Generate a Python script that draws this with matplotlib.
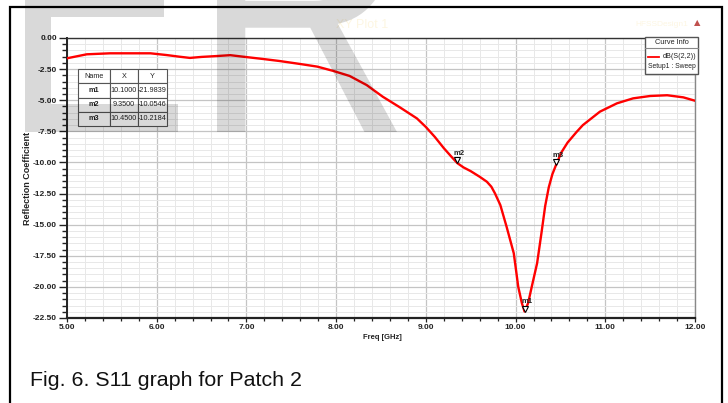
import matplotlib
matplotlib.use('Agg')
import matplotlib.pyplot as plt
import matplotlib.transforms as mtransforms
from matplotlib.patches import Rectangle, PathPatch
from matplotlib.lines import Line2D
from matplotlib.textpath import TextPath
from matplotlib.font_manager import FontProperties
from matplotlib.ticker import MultipleLocator, FormatStrFormatter

plt.rcParams['font.family'] = ['Liberation Sans', 'DejaVu Sans']

# S(2,2) sweep
freq_ghz = [5.00, 5.22, 5.48, 5.93, 6.11, 6.25, 6.37, 6.50, 6.67, 6.82,
            6.96, 7.19, 7.37, 7.60, 7.79, 7.97, 8.15, 8.34, 8.52, 8.71,
            8.90, 9.00, 9.10, 9.20, 9.28, 9.35, 9.42, 9.50, 9.60, 9.68,
            9.73, 9.77, 9.83, 9.90, 9.98, 10.03, 10.07, 10.10, 10.14, 10.18,
            10.24, 10.29, 10.33, 10.37, 10.41, 10.45, 10.51, 10.58, 10.68, 10.75,
            10.94, 11.13, 11.31, 11.50, 11.69, 11.87, 12.00]
s22_db = [-1.63, -1.31, -1.23, -1.23, -1.37, -1.50, -1.60, -1.52, -1.45, -1.38,
          -1.50, -1.69, -1.85, -2.09, -2.30, -2.65, -3.05, -3.78, -4.72, -5.57,
          -6.46, -7.15, -7.95, -8.85, -9.50, -10.05, -10.40, -10.70, -11.15, -11.55,
          -11.95, -12.48, -13.42, -15.17, -17.30, -20.00, -21.30, -21.98, -21.30, -20.00,
          -18.10, -15.60, -13.50, -12.00, -10.95, -10.22, -9.20, -8.40, -7.55, -7.00,
          -5.92, -5.25, -4.85, -4.66, -4.60, -4.77, -5.04]

marker_names = ['m1', 'm2', 'm3']
marker_x = [10.1000, 9.3500, 10.4500]
marker_y = [-21.9839, -10.0546, -10.2184]

table_header = ['Name', 'X', 'Y']
caption = 'Fig. 6. S11 graph for Patch 2'

W, H = 728, 403
fig = plt.figure(figsize=(W / 100, H / 100), dpi=100)
fig.patch.set_facecolor('white')


def px(x, y):
    # pixel (from top-left) -> figure fraction
    return x / W, 1 - y / H


x0, y0 = px(67, 318)
x1, y1 = px(695, 38)
ax = fig.add_axes([x0, y0, x1 - x0, y1 - y0])
ax.set_facecolor('white')

ax.plot(freq_ghz, s22_db, color='#ff0000', lw=1.7, zorder=3,
        solid_joinstyle='round', solid_capstyle='round')

ax.set_xlim(5, 12)
ax.set_ylim(-22.5, 0)
ax.xaxis.set_major_locator(MultipleLocator(1))
ax.xaxis.set_minor_locator(MultipleLocator(0.2))
ax.yaxis.set_major_locator(MultipleLocator(2.5))
ax.yaxis.set_minor_locator(MultipleLocator(0.5))
ax.xaxis.set_major_formatter(FormatStrFormatter('%.2f'))
ax.yaxis.set_major_formatter(FormatStrFormatter('%.2f'))
ax.grid(which='major', color='#c4c4c4', lw=0.9, zorder=1)
ax.grid(which='minor', color='#e8e8e8', lw=0.7, zorder=1)
ax.set_axisbelow(True)

ax.tick_params(axis='y', which='major', length=6, width=1.0, pad=1.2, labelsize=6, colors='#222222')
ax.tick_params(axis='y', which='minor', length=3.5, width=1.0, colors='#222222')
ax.tick_params(axis='x', which='major', length=3, width=0.9, pad=1, labelsize=6, colors='#222222')
ax.tick_params(axis='x', which='minor', length=2, width=0.9, colors='#222222')
for lab in ax.get_xticklabels() + ax.get_yticklabels():
    lab.set_fontweight('bold')

ax.spines['left'].set_linewidth(1.4)
ax.spines['left'].set_color('#222222')
ax.spines['bottom'].set_linewidth(1.6)
ax.spines['bottom'].set_color('#222222')
ax.spines['top'].set_linewidth(1.0)
ax.spines['top'].set_color('#333333')
ax.spines['right'].set_linewidth(1.0)
ax.spines['right'].set_color('#888888')

ax.set_ylabel('Reflection Coefficient', fontsize=6.5, fontweight='bold', color='#222222')
ax.yaxis.set_label_coords(-0.056, 0.5)
ax.set_xlabel('Freq [GHz]', fontsize=5.5, fontweight='bold', color='#222222')
ax.xaxis.set_label_coords(0.502, -0.058)

# markers: triangle tip sitting on the curve
tri_tr = mtransforms.offset_copy(ax.transData, fig=fig, y=2.2, units='points')
ax.plot(marker_x, marker_y, linestyle='none', marker='v', markersize=4,
        markerfacecolor='white', markeredgecolor='black', markeredgewidth=0.8,
        transform=tri_tr, zorder=4)
for name, mx, my in zip(marker_names, marker_x, marker_y):
    ax.annotate(name, (mx, my), xytext=(-2.5, 6), textcoords='offset points',
                fontsize=5.5, fontweight='bold', color='#222222', zorder=4)

# marker table
rows = [[n, '%.4f' % x, '%.4f' % y] for n, x, y in zip(marker_names, marker_x, marker_y)]
tb_left = (78 - 67) / 628
tb_right = (167 - 67) / 628
tb_top = 1 - (69 - 38) / 280
tb_bot = 1 - (126 - 38) / 280
tbl = ax.table(cellText=rows, colLabels=table_header, cellLoc='center',
               colWidths=[32 / 89, 28 / 89, 29 / 89],
               bbox=[tb_left, tb_bot, tb_right - tb_left, tb_top - tb_bot], zorder=5)
tbl.auto_set_font_size(False)
tbl.set_fontsize(5.2)
for (r, c), cell in tbl.get_celld().items():
    cell.set_edgecolor('#555555')
    cell.set_linewidth(0.8)
    cell.set_facecolor('white')
    cell.PAD = 0.02
    t = cell.get_text()
    t.set_color('#222222')
    if r > 0 and c == 0:
        t.set_fontweight('bold')

# curve info box
bx0, by0 = px(645, 74)
bx1, by1 = px(698, 37)
fig.add_artist(Rectangle((bx0, by0), bx1 - bx0, by1 - by0, transform=fig.transFigure,
                         facecolor='white', edgecolor='#555555', lw=1.0, zorder=5))
sx0, sy = px(645, 48)
sx1, _ = px(698, 48)
fig.add_artist(Line2D([sx0, sx1], [sy, sy], transform=fig.transFigure, color='#888888', lw=0.8, zorder=6))
tx, ty = px(671.5, 42.5)
fig.text(tx, ty, 'Curve Info', fontsize=5.3, ha='center', va='center', color='#222222', zorder=6)
lx0, ly = px(648, 57)
lx1, _ = px(659, 57)
fig.add_artist(Line2D([lx0, lx1], [ly, ly], transform=fig.transFigure, color='#ff0000', lw=1.3, zorder=6))
tx, ty = px(696, 57)
fig.text(tx, ty, 'dB(S(2,2))', fontsize=5.2, ha='right', va='center', color='#222222', zorder=6)
tx, ty = px(671.5, 67)
fig.text(tx, ty, 'Setup1 : Sweep', fontsize=4.9, ha='center', va='center', color='#222222', zorder=6)

# faint HFSS header texts and logo
tx, ty = px(362, 25)
fig.text(tx, ty, 'XY Plot 1', fontsize=9, ha='center', va='center', color='#fdf6e2', zorder=2)
tx, ty = px(662, 25)
fig.text(tx, ty, 'HFSSDesign1', fontsize=6, ha='center', va='center', color='#fdf6e2', zorder=2)
tx, ty = px(697, 23)
fig.text(tx, ty, '\u25B2', fontsize=6, ha='center', va='center', color='#c0504d', zorder=6,
         family=['DejaVu Sans'])

# caption
tx, ty = px(30, 381)
fig.text(tx, ty, caption, fontsize=15.4, ha='left', va='center', color='#111111')

# outer frame
fx0, fy1 = px(10, 7)
fx1, _ = px(722, 7)
fig.add_artist(Rectangle((fx0, -0.1), fx1 - fx0, fy1 + 0.1, transform=fig.transFigure,
                         facecolor='none', edgecolor='black', lw=1.6, zorder=7))

# grey watermark letters (multiplied look via translucent black on top)
fp = FontProperties(family='Liberation Sans')


def watermark(ch, left, ink_w, baseline_top, em_h):
    p = TextPath((0, 0), ch, size=1, prop=fp)
    ext = p.get_extents()
    tr = (mtransforms.Affine2D().translate(-ext.x0, 0)
          .scale(ink_w / ext.width, em_h).translate(left, H - baseline_top))
    fig.add_artist(PathPatch(p, transform=tr, facecolor='black', edgecolor='none',
                             alpha=0.15, zorder=20))


watermark('E', 25, 153, 132, 365)
watermark('R', 217, 180, 132, 365)

fig.savefig('out.png', dpi=100, facecolor='white')
